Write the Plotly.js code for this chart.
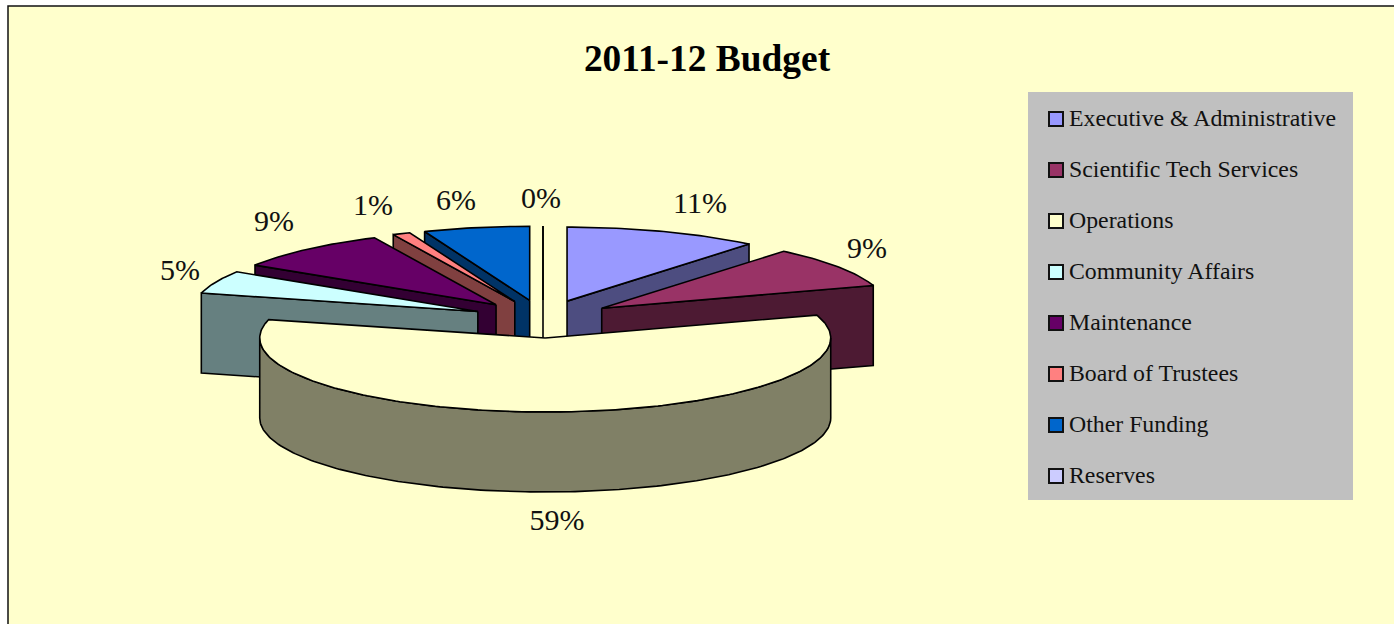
<!DOCTYPE html>
<html>
<head>
<meta charset="utf-8">
<script src="https://cdn.plot.ly/plotly-3.0.1.min.js"></script>
<style>html,body{margin:0;padding:0;background:#fff}#chart{width:1394px;height:624px}</style>
</head>
<body>
<div id="chart"></div>
<script>
// FY budget shares
const categories = ['Executive & Administrative', 'Scientific Tech Services', 'Operations',
  'Community Affairs', 'Maintenance', 'Board of Trustees', 'Other Funding', 'Reserves'];
const shares = [11, 9, 59, 5, 9, 1, 6, 0];
const topColors = ['#9999FF', '#993366', '#FFFFCC', '#CCFFFF', '#660066', '#FF8080', '#0066CC', '#CCCCFF'];
const sideColors = ['#4D4D80', '#4D1A33', '#808066', '#668080', '#330033', '#804040', '#003366', '#666680'];
const shareLabels = ['11%', '9%', '59%', '5%', '9%', '1%', '6%', '0%'];

// Pie projection, in pixel-valued axis units
const centerX = 543, centerY = 319;
const radiusX = 285.5, radiusY = 74;
const explodeX = 71, explodeY = 19;
const depth = 80;
const inkColor = '#000';
const paintOrder = [0, 7, 1, 6, 5, 4, 3, 2]; // far slices first

const labelX = [700, 867, 557, 180, 274, 373, 456, 541];
const labelY = [205, 250, 522, 272, 223, 207, 202, 200];

const total = shares.reduce((a, b) => a + b, 0);
const rad = d => d * Math.PI / 180;

// Start and end angle of every slice, clockwise from twelve o'clock
let running = 0;
const spans = shares.map(v => {
  const from = running / total * 360;
  running += v;
  return [from, running / total * 360];
});

function sliceCenter(i) {
  const mid = rad((spans[i][0] + spans[i][1]) / 2);
  return [centerX + explodeX * Math.sin(mid), centerY - explodeY * Math.cos(mid)];
}
function rimPoint(c, deg, drop) {
  return [c[0] + radiusX * Math.sin(rad(deg)), c[1] - radiusY * Math.cos(rad(deg)) + (drop || 0)];
}
function arc(c, a, b, drop) {
  const pts = [], n = Math.max(1, Math.ceil(Math.abs(b - a)));
  for (let k = 0; k <= n; k++) pts.push(rimPoint(c, a + (b - a) * k / n, drop));
  return pts;
}
function polygon(pts, fill) {
  const closed = pts.concat([pts[0]]);
  return {
    type: 'scatter', mode: 'lines', x: closed.map(p => p[0]), y: closed.map(p => p[1]),
    fill: 'toself', fillcolor: fill, line: {color: inkColor, width: 1.6, shape: 'linear'},
    hoverinfo: 'skip', showlegend: false
  };
}

const traces = [];
paintOrder.forEach(i => {
  const c = sliceCenter(i), [a, b] = spans[i];
  const mid = (a + b) / 2;
  // The cut face turned to the viewer: the clockwise edge on the right half, the other on the left
  const edge = mid < 180 ? b : a;
  if (b - a < 90) {
    const p = rimPoint(c, edge);
    traces.push(polygon([c, p, [p[0], p[1] + depth], [c[0], c[1] + depth]], sideColors[i]));
  } else {
    // Curved outer wall along the near half of the rim
    const lo = Math.max(a, 90), hi = Math.min(b, 270);
    traces.push(polygon(arc(c, lo, hi, 0).concat(arc(c, hi, lo, depth)), sideColors[i]));
  }
  traces.push(polygon([c].concat(arc(c, a, b, 0)), topColors[i]));
});

// Percentage labels
traces.push({
  type: 'scatter', mode: 'text', x: labelX, y: labelY, text: shareLabels,
  textposition: 'middle center',
  textfont: {family: '"Liberation Serif", serif', size: 30, color: '#111'},
  hoverinfo: 'skip', showlegend: false
});

// Key on the right
const keyRows = categories.map((_, i) => 119 + i * 51);
traces.push({
  type: 'scatter', mode: 'markers', x: categories.map(() => 1056), y: keyRows,
  marker: {symbol: 'square', size: 14, color: topColors, line: {color: '#111', width: 2}},
  hoverinfo: 'skip', showlegend: false
});
traces.push({
  type: 'scatter', mode: 'text', x: categories.map(() => 1069), y: keyRows.map(y => y + 1), text: categories,
  textposition: 'middle right',
  textfont: {family: '"Liberation Serif", serif', size: 23.8, color: '#111'},
  hoverinfo: 'skip', showlegend: false
});

const layout = {
  width: 1394, height: 624,
  margin: {l: 0, r: 0, t: 0, b: 0},
  paper_bgcolor: '#FFFFFF', plot_bgcolor: 'rgba(0,0,0,0)',
  showlegend: false,
  title: {
    text: '2011-12 Budget', x: 707 / 1394, xanchor: 'center', y: 1 - 58 / 624, yanchor: 'middle',
    font: {family: '"Liberation Serif", serif', size: 37.4, color: '#000', weight: 700}
  },
  xaxis: {range: [0, 1394], visible: false, fixedrange: true},
  yaxis: {range: [624, 0], visible: false, fixedrange: true},
  shapes: [
    {type: 'rect', layer: 'below', xref: 'x', yref: 'y', x0: 8, y0: 6, x1: 1410, y1: 640,
     fillcolor: '#FFFFCC', line: {color: '#111', width: 1.5}},
    {type: 'rect', layer: 'below', xref: 'x', yref: 'y', x0: 1028, y0: 92, x1: 1353, y1: 500,
     fillcolor: '#C0C0C0', line: {width: 0}}
  ]
};

Plotly.newPlot('chart', traces, layout, {displayModeBar: false, staticPlot: true});
</script>
</body>
</html>
